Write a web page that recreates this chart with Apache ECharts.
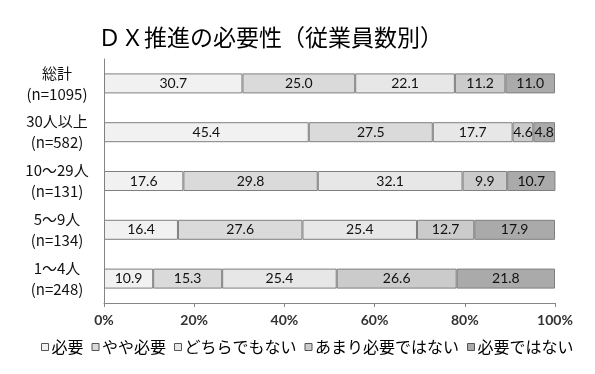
<!DOCTYPE html>
<html><head><meta charset="utf-8">
<script src="https://cdn.jsdelivr.net/npm/echarts@6/dist/echarts.min.js"></script>
<style>html,body{margin:0;padding:0;background:#fff}#c{width:595px;height:374px}</style>
</head><body><div id="c"></div>
<script>
const categories = ['総計\n(n=1095)', '30人以上\n(n=582)', '10～29人\n(n=131)', '5～9人\n(n=134)', '1～4人\n(n=248)'];
const seriesNames = ['必要', 'やや必要', 'どちらでもない', 'あまり必要ではない', '必要ではない'];
const hitsuyou      = [30.7, 45.4, 17.6, 16.4, 10.9];
const yayaHitsuyou  = [25.0, 27.5, 29.8, 27.6, 15.3];
const dochiraDemo   = [22.1, 17.7, 32.1, 25.4, 25.4];
const amari         = [11.2, 4.6, 9.9, 12.7, 26.6];
const hitsuyouNai   = [11.0, 4.8, 10.7, 17.9, 21.8];
const seriesValues = [hitsuyou, yayaHitsuyou, dochiraDemo, amari, hitsuyouNai];
const colors = ['#f1f1f1', '#dadada', '#e7e7e7', '#cbcbcb', '#aaaaaa'];

const chart = echarts.init(document.getElementById('c'));
chart.setOption({
  animation: false,
  title: {
    text: 'ＤＸ推進の必要性（従業員数別）',
    left: 93, top: 21,
    textStyle: {fontFamily: 'Noto Sans CJK JP', fontSize: 23, fontWeight: 'normal', color: '#000'}
  },
  legend: {
    bottom: 14, left: 36,
    icon: 'rect', itemWidth: 7, itemHeight: 7, itemGap: 8,
    itemStyle: {borderColor: '#555', borderWidth: 1},
    textStyle: {fontFamily: 'Noto Sans CJK JP', fontSize: 16, color: '#000', padding: [0,0,0,-2]},
    data: seriesNames
  },
  grid: {left: 104, right: 40, top: 59, bottom: 71, containLabel: false},
  xAxis: {
    type: 'value', min: 0, max: 100, interval: 20,
    axisLine: {show: true, lineStyle: {color: '#868686'}},
    axisTick: {show: true, length: 4, lineStyle: {color: '#868686'}},
    splitLine: {show: false},
    axisLabel: {formatter: '{value}%', fontFamily: 'Lato', fontSize: 14, fontWeight: 'bold', color: '#333', margin: 10}
  },
  yAxis: {
    type: 'category', inverse: true, data: categories,
    axisLine: {show: true, lineStyle: {color: '#868686'}},
    axisTick: {show: false},
    axisLabel: {align: 'center', margin: 47, fontFamily: 'Noto Sans CJK JP', fontSize: 15, lineHeight: 21, color: '#111'}
  },
  series: seriesValues.map((vals, i) => ({
    name: seriesNames[i], type: 'bar', stack: 'all', barWidth: 20,
    data: vals,
    itemStyle: {color: colors[i], borderColor: '#7f7f7f', borderWidth: 1},
    label: {show: true, position: 'inside', formatter: p => p.value.toFixed(1),
      fontFamily: 'Lato', fontSize: 14, color: '#111'}
  }))
});
</script></body></html>
